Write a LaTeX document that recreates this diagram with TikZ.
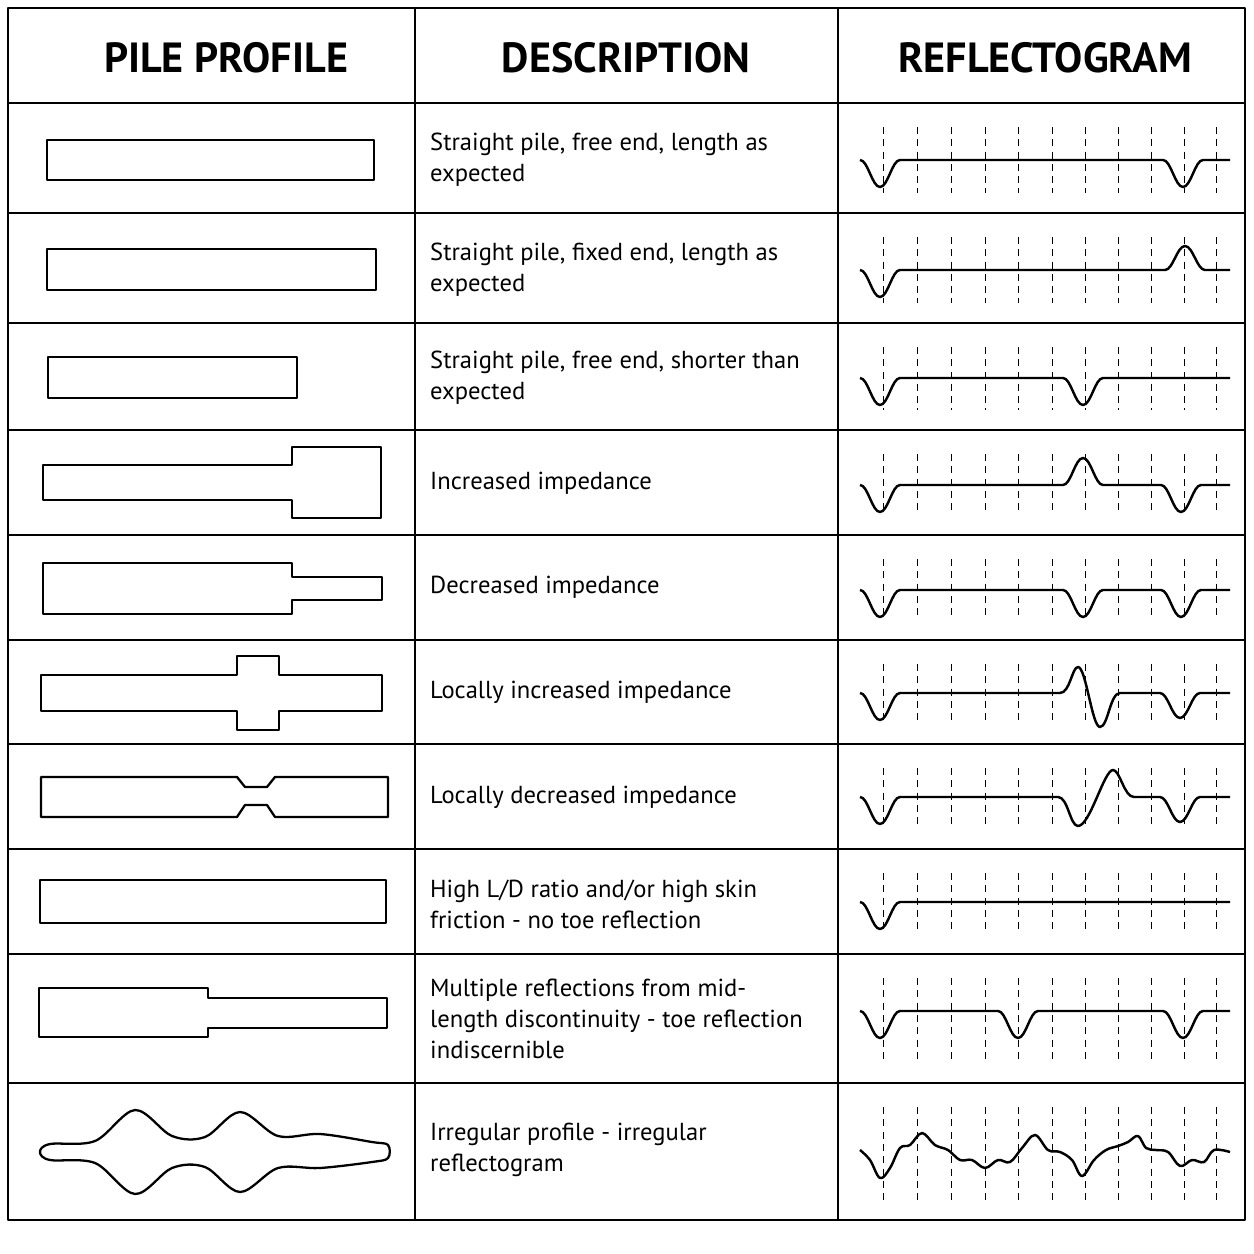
\documentclass[tikz,border=0pt]{standalone}
\usepackage{fontspec}
\setmainfont{PT Sans}
\usetikzlibrary{positioning}
\begin{document}
\begin{tikzpicture}[x=0.02cm,y=-0.02cm,line join=round,
		frame/.style={line width=1.6pt},
		profile/.style={line width=1.3pt},
		trace/.style={line width=1.4pt},
		grid/.style={line width=0.5pt,dash pattern=on 4pt off 3pt},
		head/.style={font=\fontsize{24}{28}\selectfont\bfseries,anchor=center},
		desc/.style={font=\fontsize{14}{17.6}\selectfont,anchor=west,align=left},
		dip/.style={insert path={.. controls +(8,0) and +(-8,0) .. ++(20,#1)
		.. controls +(8,0) and +(-8,0) .. ++(20,-#1)}},
		dip/.default=27,
		]
		\useasboundingbox (0,0) rectangle (1254,1254);
		% table
		\draw[frame] (8,8) rectangle (1245,1220);
		\foreach \yy in {103,213,323,430,535,640,744,849,954,1083}
		  \draw[frame] (8,\yy) -- (1245,\yy);
		\draw[frame] (415,8) -- (415,1220);
		\draw[frame] (838,8) -- (838,1220);
		% headings
		\node[head] (h1) at (226,58) {PILE PROFILE};
		\node[head] (h2) at (626,58) {DESCRIPTION};
		\node[head] (h3) at (1045,58) {REFLECTOGRAM};
		% dashed time marks
		\foreach \top/\bot in {103/213,213/323,323/430,430/535,535/640,640/744,744/849,849/954,954/1083,1083/1220}
		  \foreach \xx in {883,917,951,985,1018,1052,1085,1118,1151,1184,1216}
		    \draw[grid] (\xx,\top+24) -- (\xx,\bot-20);
		% descriptions
		\node[desc] (d1) at (424,160) {Straight pile, free end, length as\\expected};
		\node[desc] (d2) at (424,270) {Straight pile, fixed end, length as\\expected};
		\node[desc] (d3) at (424,378) {Straight pile, free end, shorter than\\expected};
		\node[desc] (d4) at (424,483) {Increased impedance};
		\node[desc] (d5) at (424,587) {Decreased impedance};
		\node[desc] (d6) at (424,692) {Locally increased impedance};
		\node[desc] (d7) at (424,797) {Locally decreased impedance};
		\node[desc] (d8) at (424,904) {High L/D ratio and/or high skin\\friction - no toe reflection};
		\node[desc] (d9) at (424,1019) {Multiple reflections from mid-\\length discontinuity - toe reflection\\indiscernible};
		\node[desc] (d10) at (424,1150) {Irregular profile - irregular\\reflectogram};
		% pile profiles
		\draw[profile] (47,140) rectangle (374,180);
		\draw[profile] (47,249) rectangle (376,290);
		\draw[profile] (48,357) rectangle (297,398);
		\draw[profile] (43,465) -- (292,465) -- (292,447) -- (381,447) -- (381,518)
		  -- (292,518) -- (292,500) -- (43,500) -- cycle;
		\draw[profile] (43,563) -- (292,563) -- (292,577) -- (382,577) -- (382,600)
		  -- (292,600) -- (292,614) -- (43,614) -- cycle;
		\draw[profile] (41,675) -- (237,675) -- (237,656) -- (279,656) -- (279,675)
		  -- (382,675) -- (382,711) -- (279,711) -- (279,730) -- (237,730) -- (237,711)
		  -- (41,711) -- cycle;
		\draw[profile] (41,777) -- (237,777) -- (245,787) -- (267,787) -- (275,777)
		  -- (388,777) -- (388,817) -- (275,817) -- (267,805) -- (245,805) -- (237,817)
		  -- (41,817) -- cycle;
		\draw[profile] (40,880) rectangle (386,923);
		\draw[profile] (39,988) -- (208,988) -- (208,998) -- (387,998) -- (387,1028)
		  -- (208,1028) -- (208,1037) -- (39,1037) -- cycle;
		\draw[profile] plot[smooth cycle,tension=0.55] coordinates {
		  (40,1152) (50,1144) (95,1141) (135,1110) (172,1136) (205,1137) (240,1112)
		  (278,1136) (320,1134) (372,1142) (388,1145) (388,1158) (372,1162) (320,1168)
		  (278,1168) (240,1192) (205,1167) (172,1168) (135,1194) (95,1163) (50,1160)};
		% reflectograms
		\draw[trace] (860,160) [dip] -- (1163,160) [dip] -- (1230,160);
		\draw[trace] (860,270) [dip] -- (1165,270) [dip=-24] -- (1230,270);
		\draw[trace] (860,378) [dip] -- (1063,378) [dip] -- (1230,378);
		\draw[trace] (860,485) [dip] -- (1063,485) [dip=-27] -- (1161,485) [dip] -- (1230,485);
		\draw[trace] (860,590) [dip] -- (1063,590) [dip] -- (1161,590) [dip] -- (1230,590);
		\draw[trace] (860,693) [dip] -- (1060,693) .. controls (1070,693) and (1072,667) .. (1078,667)
		  .. controls (1086,667) and (1092,727) .. (1100,727) .. controls (1108,727) and (1110,693) .. (1120,693)
		  -- (1160,693) [dip=25] -- (1230,693);
		\draw[trace] (860,797) [dip] -- (1058,797) .. controls (1068,797) and (1070,826) .. (1078,826)
		  .. controls (1090,826) and (1104,770) .. (1113,770) .. controls (1120,770) and (1124,797) .. (1134,797)
		  -- (1160,797) [dip=25] -- (1230,797);
		\draw[trace] (860,902) [dip] -- (1230,902);
		\draw[trace] (860,1011) [dip] -- (998,1011) [dip] -- (1163,1011) [dip] -- (1230,1011);
		\draw[trace] plot[smooth,tension=0.6] coordinates {
		  (860,1150) (870,1160) (880,1178) (890,1168) (900,1148) (910,1145) (922,1133)
		  (935,1145) (948,1150) (960,1160) (972,1160) (985,1168) (998,1160) (1010,1162)
		  (1022,1148) (1035,1135) (1048,1150) (1060,1152) (1072,1160) (1082,1176)
		  (1094,1160) (1106,1150) (1118,1146) (1128,1142) (1138,1136) (1146,1148)
		  (1156,1150) (1168,1152) (1180,1166) (1192,1160) (1204,1162) (1214,1150) (1230,1152)};
\end{tikzpicture}
\end{document}
